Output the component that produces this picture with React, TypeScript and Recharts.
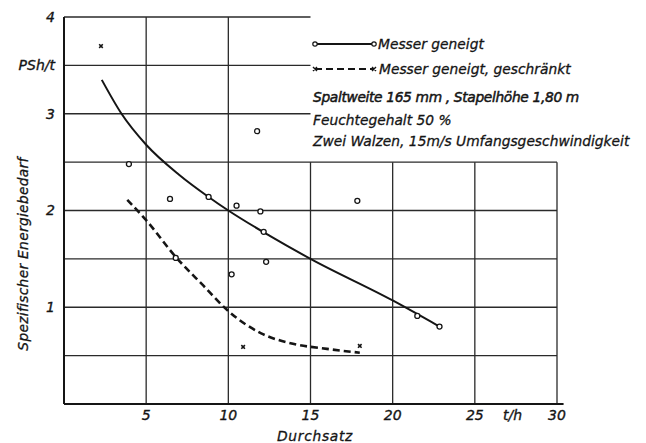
import React from 'react';
import { ComposedChart, XAxis, YAxis, Line, Scatter, ReferenceLine } from 'recharts';

const FONT = '"DejaVu Sans", "Open Sans", sans-serif';
const INK = '#151515';

// Data
const circleX = [3.95, 6.45, 8.8, 10.5, 11.75, 11.95, 12.15, 12.3, 10.2, 6.8, 17.85, 21.5, 22.85];
const circleY = [2.48, 2.12, 2.14, 2.05, 2.82, 1.99, 1.78, 1.47, 1.34, 1.51, 2.1, 0.91, 0.8];
const crossX = [2.25, 10.9, 18.0];
const crossY = [3.7, 0.59, 0.6];
const solidCurveX = [2.3, 3.5, 5, 7, 8.8, 10, 12.5, 15, 20, 22.85];
const solidCurveY = [3.35, 3.0, 2.68, 2.37, 2.14, 2.0, 1.74, 1.5, 1.07, 0.8];
const dashedCurveX = [3.85, 5, 6.8, 8.5, 10, 12, 14, 16, 18];
const dashedCurveY = [2.11, 1.9, 1.52, 1.22, 0.96, 0.73, 0.62, 0.57, 0.53];

const xTicks = [5, 10, 15, 20, 25, 27.3, 30];
const xTickLabels = ['5', '10', '15', '20', '25', 't/h', '30'];
const yTicks = [1, 2, 3, 3.5, 4];
const yTickLabels = ['1', '2', '3', 'PSh/t', '4'];

// grid: [x1, y1, x2, y2]
const gridH = [
  [0, 4, 15, 4],
  [0, 3.5, 15, 3.5],
  [0, 3, 15, 3],
  [0, 2.5, 30, 2.5],
  [0, 2, 30, 2],
  [0, 1.5, 30, 1.5],
  [0, 1, 30, 1],
  [0, 0.5, 30, 0.5],
];
const gridV = [
  [5, 0, 5, 4],
  [10, 0, 10, 4],
  [15, 0, 15, 2.5],
  [20, 0, 20, 2.5],
  [25, 0, 25, 2.5],
  [30, 0, 30, 2.5],
];

const circles = circleX.map((x, i) => ({ x, y: circleY[i] }));
const crosses = crossX.map((x, i) => ({ x, y: crossY[i] }));
const solidCurve = solidCurveX.map((x, i) => ({ x, y: solidCurveY[i] }));
const dashedCurve = dashedCurveX.map((x, i) => ({ x, y: dashedCurveY[i] }));

const CircleMark = (p: any) => (
  <circle cx={p.cx} cy={p.cy} r={2.5} fill="#fff" stroke={INK} strokeWidth={1.3} />
);
const CrossMark = (p: any) => (
  <path
    d={`M${p.cx - 1.8},${p.cy - 1.8}L${p.cx + 1.8},${p.cy + 1.8}M${p.cx + 1.8},${p.cy - 1.8}L${p.cx - 1.8},${p.cy + 1.8}`}
    stroke={INK}
    strokeWidth={1.6}
  />
);

const tickStyle = {
  fontSize: 14,
  fontStyle: 'italic' as const,
  fill: INK,
  stroke: INK,
  strokeWidth: 0.35,
  fontFamily: FONT,
};

export default function App() {
  const W = 638;
  const H = 435;
  const textStyle = {
    fontFamily: FONT,
    fontStyle: 'italic' as const,
    fontSize: 13.8,
    fill: INK,
    stroke: INK,
    strokeWidth: 0.3,
  };
  return (
    <div style={{ position: 'relative', width: W, height: H }}>
      <ComposedChart width={W} height={H} margin={{ top: 9, right: 89, bottom: 0, left: 0 }}>
        <XAxis
          type="number"
          dataKey="x"
          domain={[0, 30]}
          ticks={xTicks}
          interval={0}
          tickFormatter={(v: number) => xTickLabels[xTicks.indexOf(v)] ?? ''}
          tick={tickStyle}
          tickSize={0}
          tickMargin={6}
          height={39}
          axisLine={false}
          allowDataOverflow
        />
        <YAxis
          type="number"
          dataKey="y"
          domain={[0, 4]}
          ticks={yTicks}
          interval={0}
          tickFormatter={(v: number) => yTickLabels[yTicks.indexOf(v)] ?? ''}
          tick={tickStyle}
          tickSize={0}
          tickMargin={9}
          width={56}
          axisLine={{ stroke: INK, strokeWidth: 2 }}
          allowDataOverflow
        />
        {gridH.map((g, i) => (
          <ReferenceLine
            key={'h' + i}
            segment={[{ x: g[0], y: g[1] }, { x: g[2], y: g[3] }]}
            stroke="#2a2a2a"
            strokeWidth={1.3}
            ifOverflow="visible"
          />
        ))}
        {gridV.map((g, i) => (
          <ReferenceLine
            key={'v' + i}
            segment={[{ x: g[0], y: g[1] }, { x: g[2], y: g[3] }]}
            stroke="#2a2a2a"
            strokeWidth={1.3}
            ifOverflow="visible"
          />
        ))}
        <ReferenceLine
          segment={[{ x: 0, y: 0 }, { x: 30.4, y: 0 }]}
          stroke={INK}
          strokeWidth={2}
          ifOverflow="visible"
        />
        <Line
          data={solidCurve}
          dataKey="y"
          type="monotone"
          stroke={INK}
          strokeWidth={2}
          dot={false}
          activeDot={false}
          isAnimationActive={false}
        />
        <Line
          data={dashedCurve}
          dataKey="y"
          type="monotone"
          stroke={INK}
          strokeWidth={2.6}
          strokeDasharray="7 4"
          dot={false}
          activeDot={false}
          isAnimationActive={false}
        />
        <Scatter data={circles} dataKey="y" shape={CircleMark} isAnimationActive={false} />
        <Scatter data={crosses} dataKey="y" shape={CrossMark} isAnimationActive={false} />
      </ComposedChart>
      <svg
        width={W}
        height={H}
        style={{ position: 'absolute', left: 0, top: 0, pointerEvents: 'none' }}
      >
        <line x1={307} y1={36} x2={366} y2={36} stroke={INK} strokeWidth={1.8} />
        <circle cx={307} cy={36} r={2.2} fill="#fff" stroke={INK} strokeWidth={1.2} />
        <circle cx={366} cy={36} r={2.2} fill="#fff" stroke={INK} strokeWidth={1.2} />
        <text x={370} y={41} style={textStyle}>Messer geneigt</text>
        <line x1={307} y1={61} x2={366} y2={61} stroke={INK} strokeWidth={2} strokeDasharray="7 4" />
        <path d="M305,59L309,63M309,59L305,63M364,59L368,63M368,59L364,63" stroke={INK} strokeWidth={1.4} />
        <text x={371} y={66} style={textStyle}>Messer geneigt, geschränkt</text>
        <text x={305} y={94} style={{ ...textStyle, strokeWidth: 0.5 }} letterSpacing={-0.35}>
          Spaltweite 165 mm , Stapelhöhe 1,80 m
        </text>
        <text x={305} y={117} style={textStyle}>Feuchtegehalt 50 %</text>
        <text x={305} y={138} style={textStyle}>Zwei Walzen, 15m/s Umfangsgeschwindigkeit</text>
        <text
          x={20}
          y={246}
          transform="rotate(-90 20 246)"
          textAnchor="middle"
          style={textStyle}
          letterSpacing={0.3}
        >
          Spezifischer Energiebedarf
        </text>
        <text x={307} y={433} textAnchor="middle" style={textStyle} letterSpacing={0.7}>
          Durchsatz
        </text>
      </svg>
    </div>
  );
}
